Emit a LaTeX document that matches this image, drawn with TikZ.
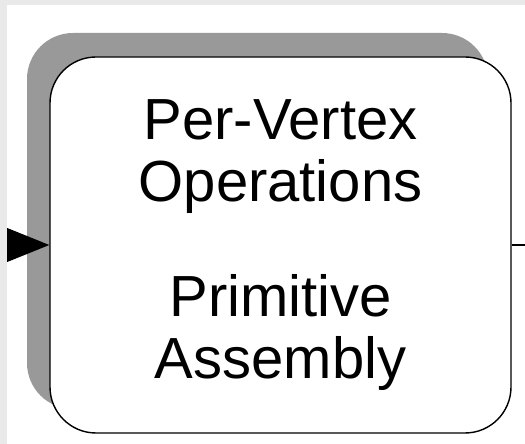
\documentclass[tikz,border=0pt]{standalone}
\usepackage{fontspec}
\setmainfont{Liberation Sans}
\usetikzlibrary{arrows.meta,shadows}
\definecolor{shade}{HTML}{999999}
\definecolor{edge}{HTML}{E9E9E9}
\tikzset{stagebox/.style={draw,line width=1.4pt,fill=white,rounded corners=46pt,minimum width=461pt,minimum height=376pt,align=center,inner sep=0pt,font=\fontsize{58}{62}\selectfont,drop shadow={shadow xshift=-23pt,shadow yshift=24pt,fill=shade,opacity=1}}}
\begin{document}
\begin{tikzpicture}[x=1pt,y=1pt]
\useasboundingbox (0,0) rectangle (525,444);
\node[stagebox] (stage) at (280.5,199) {Per-Vertex\\Operations\\[53pt]Primitive\\Assembly};
\coordinate (in) at (-20,199);\coordinate (out) at (530,199);
\draw[line width=1.4pt,-{Triangle[length=45pt,width=36pt]}] (in) -- (stage.west);
\draw[line width=1.2pt] (stage.east) -- (out);
% image edge
\fill[edge] (0,439) rectangle (525,444);\fill[edge] (0,0) rectangle (7,444);
\end{tikzpicture}
\end{document}
